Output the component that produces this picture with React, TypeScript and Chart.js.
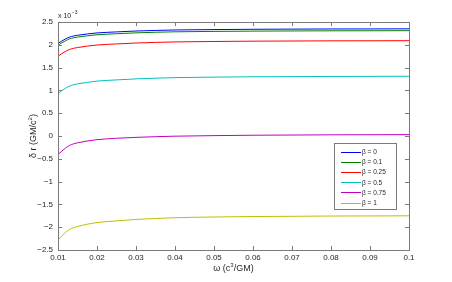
import React, { useEffect, useRef } from "react";
import { Chart, registerables } from "chart.js";

Chart.register(...registerables);

const omega = [0.01, 0.011, 0.012, 0.013, 0.014, 0.015, 0.0175, 0.02, 0.025, 0.03, 0.035, 0.04, 0.05, 0.06, 0.07, 0.08, 0.09, 0.1];

const beta0 = [2.03, 2.084, 2.132, 2.171, 2.193, 2.209, 2.238, 2.26, 2.283, 2.302, 2.315, 2.325, 2.334, 2.34, 2.344, 2.347, 2.348, 2.35];
const beta01 = [1.99, 2.044, 2.092, 2.131, 2.153, 2.169, 2.198, 2.22, 2.243, 2.262, 2.275, 2.285, 2.294, 2.3, 2.304, 2.307, 2.308, 2.31];
const beta025 = [1.75, 1.808, 1.859, 1.9, 1.923, 1.94, 1.971, 1.995, 2.019, 2.039, 2.053, 2.063, 2.073, 2.08, 2.083, 2.087, 2.088, 2.09];
const beta05 = [0.93, 0.995, 1.052, 1.097, 1.124, 1.143, 1.177, 1.204, 1.23, 1.253, 1.268, 1.28, 1.291, 1.299, 1.302, 1.306, 1.308, 1.31];
const beta075 = [-0.41, -0.33, -0.26, -0.205, -0.172, -0.15, -0.11, -0.08, -0.05, -0.03, -0.015, -0.004, 0.008, 0.017, 0.021, 0.026, 0.028, 0.03];
const beta1 = [-2.28, -2.19, -2.11, -2.047, -2.01, -1.983, -1.935, -1.898, -1.861, -1.83, -1.809, -1.792, -1.776, -1.766, -1.761, -1.755, -1.753, -1.75];

const seriesLabels = ["β = 0", "β = 0.1", "β = 0.25", "β = 0.5", "β = 0.75", "β = 1"];
const seriesValues = [beta0, beta01, beta025, beta05, beta075, beta1];
const seriesColors = ["#0000ff", "#008000", "#ff0000", "#00bfbf", "#bf00bf", "#bfbf00"];

const xTicks = [0.01, 0.02, 0.03, 0.04, 0.05, 0.06, 0.07, 0.08, 0.09, 0.1];
const yTicks = [-2.5, -2, -1.5, -1, -0.5, 0, 0.5, 1, 1.5, 2, 2.5];

const FONT = "'Liberation Sans', Arial, Helvetica, sans-serif";
const AXIS_COLOR = "#7a7a7a";
const TEXT_COLOR = "#262626";

const decorPlugin = {
  id: "decor",
  afterDraw(chart: any) {
    const ctx = chart.ctx;
    const area = chart.chartArea;
    const xs = chart.scales.x;
    const ys = chart.scales.y;
    ctx.save();
    // box
    ctx.strokeStyle = AXIS_COLOR;
    ctx.lineWidth = 1;
    ctx.strokeRect(Math.round(area.left) + 0.5, Math.round(area.top) + 0.5, Math.round(area.right - area.left), Math.round(area.bottom - area.top));
    // ticks inward
    const tl = 4;
    ctx.beginPath();
    xTicks.forEach((v) => {
      const px = Math.round(xs.getPixelForValue(v)) + 0.5;
      ctx.moveTo(px, area.bottom);
      ctx.lineTo(px, area.bottom - tl);
      ctx.moveTo(px, area.top);
      ctx.lineTo(px, area.top + tl);
    });
    yTicks.forEach((v) => {
      const py = Math.round(ys.getPixelForValue(v)) + 0.5;
      ctx.moveTo(area.left, py);
      ctx.lineTo(area.left + tl, py);
      ctx.moveTo(area.right, py);
      ctx.lineTo(area.right - tl, py);
    });
    ctx.stroke();

    // exponent label
    ctx.fillStyle = TEXT_COLOR;
    ctx.textBaseline = "alphabetic";
    ctx.textAlign = "left";
    ctx.font = `7px ${FONT}`;
    ctx.fillText("x 10", area.left, area.top - 4);
    const w = ctx.measureText("x 10").width;
    ctx.font = `5px ${FONT}`;
    ctx.fillText("−3", area.left + w + 0.5, area.top - 8);

    // x title
    const cx = (area.left + area.right) / 2;
    const p1 = "ω (c";
    const p2 = "3";
    const p3 = "/GM)";
    ctx.font = `9px ${FONT}`;
    const w1 = ctx.measureText(p1).width;
    const w3 = ctx.measureText(p3).width;
    ctx.font = `6px ${FONT}`;
    const w2 = ctx.measureText(p2).width;
    const total = w1 + w2 + w3;
    const sx = cx - total / 2;
    const by = 271;
    ctx.font = `9px ${FONT}`;
    ctx.fillText(p1, sx, by);
    ctx.font = `6px ${FONT}`;
    ctx.fillText(p2, sx + w1, by - 4);
    ctx.font = `9px ${FONT}`;
    ctx.fillText(p3, sx + w1 + w2, by);

    // y title
    ctx.save();
    const cy = (area.top + area.bottom) / 2;
    ctx.translate(36, cy);
    ctx.rotate(-Math.PI / 2);
    const q1 = "δ r (GM/c";
    const q2 = "2";
    const q3 = ")";
    ctx.font = `9px ${FONT}`;
    const v1 = ctx.measureText(q1).width;
    const v3 = ctx.measureText(q3).width;
    ctx.font = `6px ${FONT}`;
    const v2 = ctx.measureText(q2).width;
    const sy = -(v1 + v2 + v3) / 2;
    ctx.font = `9px ${FONT}`;
    ctx.fillText(q1, sy, 0);
    ctx.font = `6px ${FONT}`;
    ctx.fillText(q2, sy + v1, -4);
    ctx.font = `9px ${FONT}`;
    ctx.fillText(q3, sy + v1 + v2, 0);
    ctx.restore();

    // legend
    const lx = 334.5, ly = 143.5, lw = 62, lh = 66;
    ctx.fillStyle = "#ffffff";
    ctx.fillRect(lx, ly, lw, lh);
    ctx.strokeStyle = AXIS_COLOR;
    ctx.strokeRect(lx, ly, lw, lh);
    ctx.font = `6.5px ${FONT}`;
    ctx.textBaseline = "middle";
    seriesLabels.forEach((lab, i) => {
      const ry = 152 + i * 10.1;
      ctx.strokeStyle = seriesColors[i];
      ctx.beginPath();
      ctx.moveTo(341, Math.round(ry) + 0.5);
      ctx.lineTo(361, Math.round(ry) + 0.5);
      ctx.stroke();
      ctx.fillStyle = TEXT_COLOR;
      ctx.fillText(lab, 362, ry + 0.5);
    });
    ctx.restore();
  },
};

export default function App() {
  const ref = useRef<HTMLCanvasElement | null>(null);
  useEffect(() => {
    document.body.style.margin = "0";
    const canvas = ref.current;
    if (!canvas) return;
    const chart = new Chart(canvas, {
      type: "line",
      data: {
        datasets: seriesLabels.map((lab, i) => ({
          label: lab,
          data: omega.map((x, j) => ({ x, y: seriesValues[i][j] })),
          borderColor: seriesColors[i],
          backgroundColor: seriesColors[i],
          borderWidth: 1,
          pointRadius: 0,
          cubicInterpolationMode: "monotone" as const,
          fill: false,
        })),
      },
      options: {
        animation: false,
        responsive: false,
        maintainAspectRatio: false,
        layout: { padding: { left: 0, right: 43, top: 22, bottom: 0 } },
        plugins: { legend: { display: false }, tooltip: { enabled: false } },
        scales: {
          x: {
            type: "linear",
            min: 0.01,
            max: 0.1,
            border: { display: false },
            grid: { display: false, drawTicks: false },
            afterBuildTicks: (s: any) => {
              s.ticks = xTicks.map((v) => ({ value: v }));
            },
            afterFit: (s: any) => {
              s.height = 32;
            },
            ticks: {
              padding: 3,
              maxRotation: 0,
              autoSkip: false,
              color: TEXT_COLOR,
              font: { family: FONT, size: 8 },
              callback: (v: any) => String(Math.round(Number(v) * 100) / 100),
            },
          },
          y: {
            type: "linear",
            min: -2.5,
            max: 2.5,
            border: { display: false },
            grid: { display: false, drawTicks: false },
            afterBuildTicks: (s: any) => {
              s.ticks = yTicks.map((v) => ({ value: v }));
            },
            afterFit: (s: any) => {
              s.width = 58;
            },
            ticks: {
              padding: 5,
              autoSkip: false,
              color: TEXT_COLOR,
              font: { family: FONT, size: 8 },
              callback: (v: any) => String(v).replace("-", "−"),
            },
          },
        },
      },
      plugins: [decorPlugin],
    });
    return () => chart.destroy();
  }, []);
  return (
    <div style={{ position: "absolute", left: 0, top: 0, width: 452, height: 282 }}>
      <canvas ref={ref} width={452} height={282} style={{ display: "block", width: 452, height: 282 }} />
    </div>
  );
}
